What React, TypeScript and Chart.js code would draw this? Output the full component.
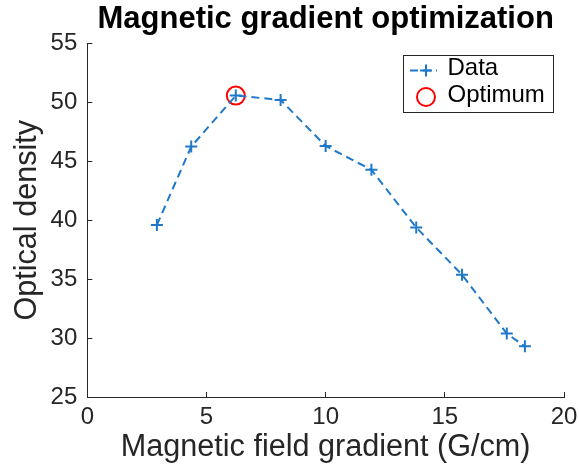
import React, { useEffect, useRef } from 'react';
import { Chart, registerables } from 'chart.js';

Chart.register(...registerables);

const titleText = 'Magnetic gradient optimization';
const xLabel = 'Magnetic field gradient (G/cm)';
const yLabel = 'Optical density';

const gradient = [2.92, 4.36, 6.23, 8.11, 10.0, 11.92, 13.8, 15.72, 17.6, 18.36];
const density = [39.6, 46.25, 50.58, 50.21, 46.3, 44.28, 39.39, 35.38, 30.38, 29.3];
const optimumX = [6.23];
const optimumY = [50.58];
const seriesLabels = ['Data', 'Optimum'];
const xRange = [0, 20];
const yRange = [25, 55];
const tickStep = 5;

const FONT = '"Liberation Sans", Arial, Helvetica, sans-serif';
const AXIS = '#262626';
const BLUE = '#1f78c8';
const RED = '#ff0000';

const boxLegend = {
  id: 'boxLegend',
  afterDatasetsDraw(chart: any) {
    const { ctx, chartArea } = chart;
    const bx = chartArea.right - 161;
    const by = chartArea.top + 11.5;
    const bw = 150;
    const bh = 57;
    ctx.save();
    ctx.fillStyle = '#ffffff';
    ctx.fillRect(bx, by, bw, bh);
    ctx.strokeStyle = AXIS;
    ctx.lineWidth = 1;
    ctx.setLineDash([]);
    ctx.strokeRect(Math.round(bx) + 0.5, Math.round(by) + 0.5, bw, bh);
    const rows = [by + 15.5, by + 42];
    chart.data.datasets.forEach((ds: any, i: number) => {
      const cy = rows[i];
      const mx = bx + 23;
      ctx.strokeStyle = ds.borderColor;
      if (ds.showLine) {
        ctx.lineWidth = ds.borderWidth;
        ctx.setLineDash(ds.borderDash || []);
        ctx.beginPath();
        ctx.moveTo(bx + 7, cy);
        ctx.lineTo(bx + 34, cy);
        ctx.stroke();
        ctx.setLineDash([]);
      }
      ctx.lineWidth = ds.pointBorderWidth;
      ctx.beginPath();
      if (ds.pointStyle === 'cross') {
        const r = ds.pointRadius;
        ctx.moveTo(mx - r, cy);
        ctx.lineTo(mx + r, cy);
        ctx.moveTo(mx, cy - r);
        ctx.lineTo(mx, cy + r);
      } else {
        ctx.arc(mx, cy, ds.pointRadius, 0, Math.PI * 2);
      }
      ctx.stroke();
      ctx.fillStyle = '#000000';
      ctx.font = `24px ${FONT}`;
      ctx.textAlign = 'left';
      ctx.textBaseline = 'middle';
      ctx.fillText(ds.label, bx + 44.5, cy - 2);
    });
    ctx.restore();
  },
};

export default function App() {
  const ref = useRef<HTMLCanvasElement | null>(null);

  useEffect(() => {
    document.body.style.margin = '0';
    const canvas = ref.current;
    if (!canvas) return;
    const chart = new Chart(canvas, {
      type: 'scatter',
      data: {
        datasets: [
          {
            label: seriesLabels[0],
            data: gradient.map((x, i) => ({ x, y: density[i] })),
            showLine: true,
            borderColor: BLUE,
            backgroundColor: BLUE,
            borderWidth: 2,
            borderDash: [8, 5],
            pointStyle: 'cross',
            pointRadius: 6,
            pointBorderWidth: 2,
            pointBorderColor: BLUE,
            pointHoverRadius: 6,
          } as any,
          {
            label: seriesLabels[1],
            data: optimumX.map((x, i) => ({ x, y: optimumY[i] })),
            showLine: false,
            borderColor: RED,
            backgroundColor: 'rgba(0,0,0,0)',
            pointStyle: 'circle',
            pointRadius: 9,
            pointBorderWidth: 2,
            pointBorderColor: RED,
            pointBackgroundColor: 'rgba(0,0,0,0)',
            pointHoverRadius: 9,
          } as any,
        ],
      },
      options: {
        responsive: false,
        animation: false,
        events: [],
        layout: { padding: { left: 0, right: 15, top: 0, bottom: 0 } },
        plugins: {
          legend: { display: false },
          tooltip: { enabled: false },
          title: {
            display: true,
            text: titleText,
            fullSize: false,
            color: '#000000',
            font: { family: FONT, size: 31, weight: 'bold', lineHeight: 1.2 },
            padding: { top: 1, bottom: 5.3 },
          },
        },
        scales: {
          x: {
            type: 'linear',
            position: 'bottom',
            min: xRange[0],
            max: xRange[1],
            afterFit: (s: any) => {
              s.height = 72;
              s.paddingLeft = 0;
              s.paddingRight = 0;
            },
            ticks: {
              stepSize: tickStep,
              color: AXIS,
              font: { family: FONT, size: 24 },
              padding: 10.8,
              maxRotation: 0,
              autoSkip: false,
            },
            grid: {
              drawOnChartArea: false,
              drawTicks: true,
              tickLength: -5,
              tickColor: AXIS,
              tickWidth: 1,
            },
            border: { display: true, color: AXIS, width: 1 },
            title: {
              display: true,
              text: xLabel,
              color: AXIS,
              font: { family: FONT, size: 30.6, lineHeight: 1.2 },
              padding: { top: 0, bottom: 3 },
            },
          },
          y: {
            type: 'linear',
            position: 'left',
            min: yRange[0],
            max: yRange[1],
            afterFit: (s: any) => {
              s.width = 87.3;
              s.paddingTop = 0;
              s.paddingBottom = 0;
            },
            ticks: {
              stepSize: tickStep,
              color: AXIS,
              font: { family: FONT, size: 24 },
              padding: 15,
              autoSkip: false,
            },
            grid: {
              drawOnChartArea: false,
              drawTicks: true,
              tickLength: -5,
              tickColor: AXIS,
              tickWidth: 1,
            },
            border: { display: true, color: AXIS, width: 1 },
            title: {
              display: true,
              text: yLabel,
              color: AXIS,
              font: { family: FONT, size: 30.6, lineHeight: 1.2 },
              padding: { top: 9, bottom: 0 },
            },
          },
        },
      } as any,
      plugins: [boxLegend],
    });
    return () => chart.destroy();
  }, []);

  return (
    <div style={{ width: 579, height: 469 }}>
      <canvas ref={ref} width={579} height={469} style={{ display: 'block', width: 579, height: 469 }} />
    </div>
  );
}
